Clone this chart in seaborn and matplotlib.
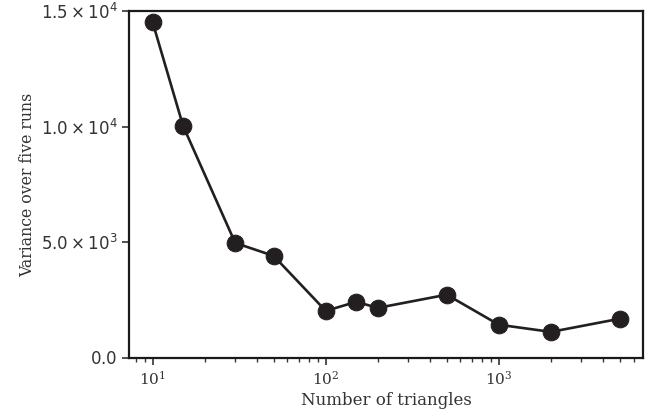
import matplotlib
matplotlib.use("Agg")
import matplotlib.pyplot as plt
import seaborn as sns
import pandas as pd

n_triangles = [10, 15, 30, 50, 100, 150, 200, 500, 1000, 2000, 5000]
variance = [14520, 10030, 4970, 4410, 2030, 2420, 2160, 2730, 1430, 1120, 1690]
y_ticks = [0, 5000, 10000, 15000]
y_tick_labels = [r"$0.0$", r"$5.0\times10^{3}$", r"$1.0\times10^{4}$", r"$1.5\times10^{4}$"]

sns.set_style("ticks")
plt.rcParams["font.family"] = ["DejaVu Serif"]
plt.rcParams["mathtext.fontset"] = "dejavusans"

df = pd.DataFrame({"n": n_triangles, "v": variance})

fig, ax = plt.subplots(figsize=(6.53, 4.16), dpi=100)
fig.subplots_adjust(left=0.198, right=0.985, top=0.973, bottom=0.14)
color = "#231f20"
sns.lineplot(data=df, x="n", y="v", ax=ax, color=color, marker="o",
             markersize=12, linewidth=1.9, markeredgecolor=color, markerfacecolor=color)
ax.set_xscale("log")
ax.set_ylim(0, 15000)
ax.set_yticks(y_ticks)
ax.set_yticklabels(y_tick_labels, fontsize=12)
ax.set_xlabel("Number of triangles", fontsize=12, color="#333333", labelpad=3)
ax.set_ylabel("Variance over five runs", fontsize=11.3, color="#333333", labelpad=3)
ax.tick_params(axis="both", colors="#333333", width=1.2, length=5, direction="out")
ax.tick_params(axis="x", labelsize=11)
ax.tick_params(axis="x", which="minor", length=3, width=1, color="#333333")
for s in ax.spines.values():
    s.set_linewidth(1.6)
    s.set_color("#1a1a1a")
fig.savefig("out.png", dpi=100)
